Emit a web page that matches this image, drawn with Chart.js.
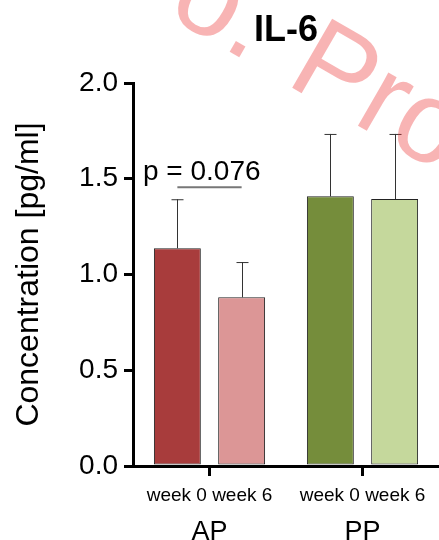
<!DOCTYPE html>
<html>
<head>
<meta charset="utf-8">
<script src="https://cdn.jsdelivr.net/npm/chart.js@4"></script>
<style>
  body { margin: 0; background: #fff; }
</style>
</head>
<body>
<canvas id="il6" width="439" height="540"></canvas>
<script>
// data
const groups = ['AP', 'PP'];
const weekLabels = ['week 0 week 6', 'week 0 week 6'];
const week0 = [1.137, 1.408];
const week6 = [0.881, 1.394];
const week0Err = [0.256, 0.326];
const week6Err = [0.184, 0.34];
const yTicks = [0, 0.5, 1.0, 1.5, 2.0];
const pValue = 'p = 0.076';
const pLineAt = 1.455;
const pTextAt = 1.493;

const FONT = "'Liberation Sans', Arial, sans-serif";

// error bars (upper only)
const errorBars = {
    id: 'errorBars',
    afterDatasetsDraw(chart) {
        const ctx = chart.ctx;
        const y = chart.scales.y;
        const errs = [week0Err, week6Err];
        ctx.save();
        ctx.strokeStyle = '#333';
        ctx.lineWidth = 1;
        chart.data.datasets.forEach((ds, i) => {
            chart.getDatasetMeta(i).data.forEach((bar, j) => {
                const top = y.getPixelForValue(ds.data[j] + errs[i][j]);
                const x = Math.round(bar.x) + 0.5;
                ctx.beginPath();
                ctx.moveTo(x, bar.y);
                ctx.lineTo(x, top);
                ctx.moveTo(x - 6, top + 0.5);
                ctx.lineTo(x + 6, top + 0.5);
                ctx.stroke();
            });
        });
        ctx.restore();
    }
};

// p-value note over the AP pair
const pNote = {
    id: 'pNote',
    afterDatasetsDraw(chart) {
        const ctx = chart.ctx;
        const y = chart.scales.y;
        const a = chart.getDatasetMeta(0).data[0];
        const b = chart.getDatasetMeta(1).data[0];
        const ly = y.getPixelForValue(pLineAt);
        ctx.save();
        ctx.strokeStyle = '#777';
        ctx.lineWidth = 2;
        ctx.beginPath();
        ctx.moveTo(a.x, ly);
        ctx.lineTo(b.x, ly);
        ctx.stroke();
        ctx.fillStyle = '#000';
        ctx.font = '28px ' + FONT;
        ctx.textAlign = 'left';
        ctx.textBaseline = 'alphabetic';
        ctx.fillText(pValue, chart.chartArea.left + 10, y.getPixelForValue(pTextAt));
        ctx.restore();
    }
};

// title over the plot area, then the watermark on top
const titleAndMark = {
    id: 'titleAndMark',
    afterDraw(chart) {
        const ctx = chart.ctx;
        const area = chart.chartArea;
        ctx.save();
        ctx.fillStyle = '#000';
        ctx.font = 'bold 36px ' + FONT;
        ctx.textAlign = 'center';
        ctx.fillText('IL-6', (area.left + area.right) / 2, 41);
        ctx.restore();

        ctx.save();
        ctx.translate(284, 83);
        ctx.rotate(30 * Math.PI / 180);
        ctx.fillStyle = 'rgba(235, 40, 40, 0.35)';
        ctx.font = '116px ' + FONT;
        ctx.textAlign = 'left';
        ctx.fillText('Proof', 0, 0);
        ctx.textAlign = 'right';
        ctx.fillText('o.', -41, 0);
        ctx.restore();
    }
};

new Chart(document.getElementById('il6'), {
    type: 'bar',
    data: {
        labels: weekLabels,
        datasets: [{
            label: 'week 0',
            data: week0,
            backgroundColor: ['#a83c3c', '#758d3b'],
            borderColor: '#222',
            borderWidth: 1,
            borderSkipped: false,
            categoryPercentage: 0.84,
            barPercentage: 0.73
        }, {
            label: 'week 6',
            data: week6,
            backgroundColor: ['#dc9696', '#c5d89c'],
            borderColor: '#222',
            borderWidth: 1,
            borderSkipped: false,
            categoryPercentage: 0.84,
            barPercentage: 0.73
        }]
    },
    options: {
        responsive: false,
        animation: false,
        layout: { padding: { top: 83, right: 0, left: 0, bottom: 0 } },
        plugins: {
            legend: { display: false },
            tooltip: { enabled: false },
            title: { display: false }
        },
        scales: {
            x: {
                offset: true,
                grid: {
                    offset: false,
                    drawOnChartArea: false,
                    tickLength: 10,
                    lineWidth: 3,
                    color: '#000'
                },
                border: { display: true, width: 3, color: '#000' },
                ticks: {
                    color: '#000',
                    font: { size: 19, family: FONT },
                    padding: 8,
                    maxRotation: 0
                },
                afterFit(scale) { scale.height = 42; }
            },
            x2: {
                type: 'category',
                position: 'bottom',
                labels: groups,
                offset: true,
                grid: { display: false },
                border: { display: false },
                ticks: {
                    color: '#000',
                    font: { size: 27, family: FONT },
                    padding: 0
                },
                afterFit(scale) { scale.height = 32; }
            },
            y: {
                min: 0,
                max: 2,
                afterBuildTicks(scale) {
                    scale.ticks = yTicks.map(v => ({ value: v }));
                },
                grid: {
                    drawOnChartArea: false,
                    tickLength: 9,
                    lineWidth: 3,
                    color: '#000'
                },
                border: { display: true, width: 3, color: '#000' },
                ticks: {
                    color: '#000',
                    font: { size: 28, family: FONT },
                    padding: 6,
                    callback: v => Number(v).toFixed(1)
                },
                title: {
                    display: true,
                    text: 'Concentration [pg/ml]',
                    color: '#000',
                    font: { size: 32, family: FONT },
                    padding: { top: 10, bottom: 8 }
                },
                afterFit(scale) { scale.width = 133; }
            }
        }
    },
    plugins: [errorBars, pNote, titleAndMark]
});
</script>
</body>
</html>
